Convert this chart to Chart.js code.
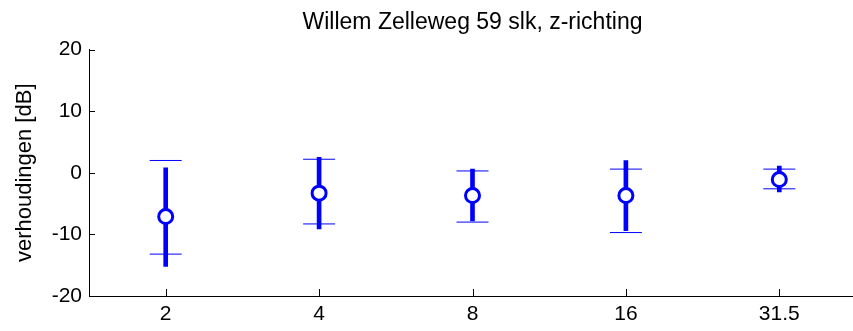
<!DOCTYPE html>
<html>
<head>
<meta charset="utf-8">
<script src="https://cdn.jsdelivr.net/npm/chart.js@4.4.0/dist/chart.umd.min.js"></script>
<style>
  html, body { margin: 0; padding: 0; background: #fff; overflow: hidden; }
  canvas { display: block; }
</style>
</head>
<body>
<canvas id="chart" width="856" height="331"></canvas>
<script>
// frequencies (Hz) on the x axis
const freqLabels = ['2', '4', '8', '16', '31.5'];

// circle = mean value
const meanValues = [-7.1, -3.3, -3.7, -3.7, -1.1];

// thick line = full range
const rangeMin = [-15.2, -9.1, -7.8, -9.4, -3.1];
const rangeMax = [0.8, 2.5, 0.6, 2.0, 1.1];

// thin horizontal caps
const capLow = [-13.2, -8.3, -8.0, -9.7, -2.6];
const capHigh = [2.0, 2.2, 0.3, 0.6, 0.6];

const yTicks = [-20, -10, 0, 10, 20];

const BLUE = '#0000ff';
const FONT = 'Liberation Sans';

// ticks pointing inward, like matlab
const innerTicks = {
    id: 'innerTicks',
    afterDraw(chart) {
        const ctx = chart.ctx;
        const x = chart.scales.x;
        const y = chart.scales.y;
        ctx.save();
        ctx.strokeStyle = '#000';
        ctx.lineWidth = 1;
        ctx.beginPath();
        yTicks.forEach(v => {
            const py = Math.round(y.getPixelForValue(v)) + 0.5;
            ctx.moveTo(x.left, py);
            ctx.lineTo(x.left + 6, py);
        });
        freqLabels.forEach((f, i) => {
            const px = Math.round(x.getPixelForValue(i)) + 0.5;
            ctx.moveTo(px, y.bottom);
            ctx.lineTo(px, y.bottom - 7);
        });
        ctx.stroke();
        ctx.restore();
    }
};

new Chart(document.getElementById('chart'), {
    type: 'bar',
    data: {
        labels: freqLabels,
        datasets: [
            {
                type: 'line',
                data: meanValues,
                showLine: false,
                pointStyle: 'circle',
                pointRadius: 7,
                pointBorderWidth: 3,
                pointBorderColor: BLUE,
                pointBackgroundColor: '#fff',
                order: 0
            },
            {
                type: 'line',
                data: capHigh,
                showLine: false,
                pointStyle: 'line',
                pointRadius: 16,
                pointBorderWidth: 1,
                pointBorderColor: BLUE,
                order: 1
            },
            {
                type: 'line',
                data: capLow,
                showLine: false,
                pointStyle: 'line',
                pointRadius: 16,
                pointBorderWidth: 1,
                pointBorderColor: BLUE,
                order: 1
            },
            {
                data: rangeMin.map((v, i) => [v, rangeMax[i]]),
                backgroundColor: BLUE,
                borderWidth: 0,
                barThickness: 4,
                order: 2
            }
        ]
    },
    options: {
        responsive: false,
        animation: false,
        layout: { padding: 0, autoPadding: false },
        plugins: {
            legend: { display: false },
            tooltip: { enabled: false },
            title: {
                display: true,
                fullSize: false,
                text: 'Willem Zelleweg 59 slk, z-richting',
                color: '#000',
                font: { family: FONT, size: 23, weight: 'normal' },
                padding: { top: 9, bottom: 13 }
            }
        },
        scales: {
            x: {
                offset: true,
                grid: { display: false, drawTicks: false },
                border: { display: true, color: '#000', width: 1 },
                ticks: {
                    color: '#000',
                    padding: 6,
                    maxRotation: 0,
                    font: { family: FONT, size: 21 }
                },
                afterFit(scale) {
                    scale.height = 35;
                    scale.paddingLeft = 0;
                    scale.paddingRight = 0;
                }
            },
            y: {
                min: -20,
                max: 20,
                grid: { display: false, drawTicks: false },
                border: { display: true, color: '#000', width: 1 },
                ticks: {
                    stepSize: 10,
                    color: '#000',
                    padding: 7,
                    font: { family: FONT, size: 21 }
                },
                title: {
                    display: true,
                    text: 'verhoudingen [dB]',
                    color: '#000',
                    font: { family: FONT, size: 22 },
                    padding: { top: 12, bottom: 0 }
                },
                afterFit(scale) {
                    scale.width = 89;
                    scale.paddingTop = 0;
                    scale.paddingBottom = 0;
                }
            }
        }
    },
    plugins: [innerTicks]
});
</script>
</body>
</html>
